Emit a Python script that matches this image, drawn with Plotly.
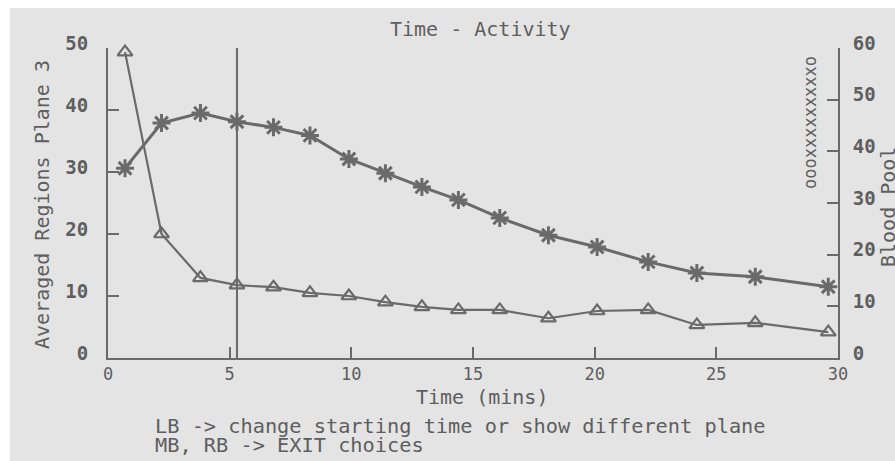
import plotly.graph_objects as go

# ---- data ----
time_mins = [0.7, 2.2, 3.8, 5.3, 6.8, 8.3, 9.9, 11.4, 12.9, 14.4, 16.1, 18.1, 20.1, 22.2, 24.2, 26.6, 29.6]
averaged_regions = [30.6, 37.9, 39.5, 38.1, 37.2, 35.9, 32.1, 29.8, 27.6, 25.5, 22.6, 19.8, 17.9, 15.5, 13.7, 13.1, 11.5]
blood_pool = [59.2, 24.0, 15.5, 14.1, 13.7, 12.6, 12.0, 10.8, 9.9, 9.3, 9.3, 7.7, 9.1, 9.3, 6.4, 6.8, 5.0]
cursor_time = 5.3
x_ticks = [0, 5, 10, 15, 20, 25, 30]
left_ticks = [0, 10, 20, 30, 40, 50]
right_ticks = [0, 10, 20, 30, 40, 50, 60]

# ---- styling ----
W, H = 895, 461
ML, MR, MT, MB = 108, 57, 48, 103
PW, PH = W - ML - MR, H - MT - MB
BG = "#e4e4e4"
INK = "#6a6a6a"
TXT = "#5e5e5e"
MONO = "DejaVu Sans Mono"


def px(x):
    return (x - ML) / PW


def py(y):
    return (H - MB - y) / PH


fig = go.Figure()
fig.add_trace(go.Scatter(
    x=time_mins, y=averaged_regions, mode="lines+markers", yaxis="y", cliponaxis=False,
    line=dict(color=INK, width=3),
    marker=dict(symbol="asterisk-open", size=15, line=dict(color=INK, width=3)),
    showlegend=False, hoverinfo="skip"))
fig.add_trace(go.Scatter(
    x=time_mins, y=blood_pool, mode="lines+markers", yaxis="y2", cliponaxis=False,
    line=dict(color=INK, width=2.2),
    marker=dict(symbol="triangle-up-open", size=13, line=dict(color=INK, width=2.2)),
    showlegend=False, hoverinfo="skip"))

axis_common = dict(showgrid=False, zeroline=False, showline=True, linecolor=INK, linewidth=2,
                   ticks="inside", ticklen=11, tickwidth=2, tickcolor=INK)

fig.update_layout(
    width=W, height=H,
    margin=dict(l=ML, r=MR, t=MT, b=MB, pad=0),
    paper_bgcolor="white", plot_bgcolor=BG,
    xaxis=dict(range=[0, 30], tickvals=x_ticks, ticklabelstandoff=0,
               tickfont=dict(family=MONO, size=17, color=TXT), **axis_common),
    yaxis=dict(range=[0, 50], tickvals=left_ticks, ticklabelstandoff=14, ticklabelshift=-5,
               tickfont=dict(family=MONO, size=19, color=TXT, weight="bold"), **axis_common),
    yaxis2=dict(range=[0, 60], tickvals=right_ticks, overlaying="y", side="right",
                ticklabelstandoff=9, ticklabelshift=-5,
                tickfont=dict(family=MONO, size=19, color=TXT, weight="bold"), **axis_common),
    shapes=[
        dict(type="rect", xref="paper", yref="paper", layer="below",
             x0=px(10), x1=px(W + 5), y0=py(H + 5), y1=py(8),
             fillcolor=BG, line=dict(width=0)),
        dict(type="line", xref="x", yref="paper", x0=cursor_time, x1=cursor_time, y0=0, y1=1,
             line=dict(color=INK, width=2)),
    ],
)


def ann(text, x, y, size=20, angle=0, xanchor="center", color=TXT):
    fig.add_annotation(text=text, xref="paper", yref="paper", x=px(x), y=py(y),
                       xanchor=xanchor, yanchor="middle", textangle=angle, showarrow=False,
                       font=dict(family=MONO, size=size, color=color))


ann("Time - Activity", 481, 29, size=20)
ann("Time (mins)", 482, 397, size=20)
ann("Averaged Regions Plane 3", 42, 205, size=20, angle=-90)
ann("Blood Pool", 888, 207, size=20, angle=-90)
ann("oooxxxxxxxxxo", 810, 123, size=17, angle=-90)
ann("LB -> change starting time or show different plane", 153, 426, size=20.3, xanchor="left")
ann("MB, RB -> EXIT choices", 153, 445, size=20.3, xanchor="left")

fig.write_html("out.html")
